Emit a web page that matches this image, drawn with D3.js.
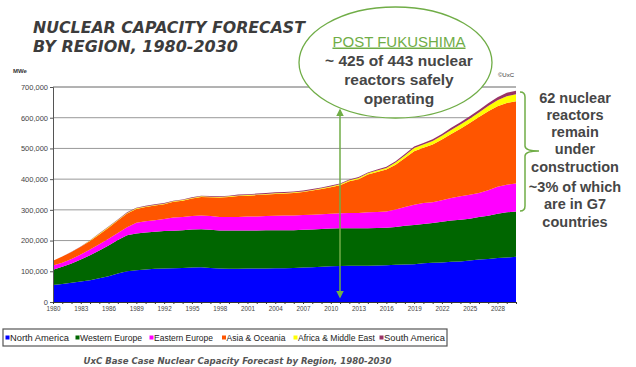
<!DOCTYPE html>
<html>
<head>
<meta charset="utf-8">
<script src="https://cdn.jsdelivr.net/npm/d3@7/dist/d3.min.js"></script>
<style>
  body { margin: 0; background: #fff; }
  svg { display: block; }
</style>
</head>
<body>
<div id="chart"></div>
<script>
// capacity by region, thousands of MWe, 1980-2030
var years = d3.range(1980, 2031);
var northAmerica = [55,59,63,67,71,77,84,93,100,103, 106,108,109,110,111,112,113,111,109,108,
  108,109,109,109,110,110,111,112,113,115, 116,117,118,118,118,119,120,121,122,123,
  126,128,129,131,132,135,138,140,143,145,147];
var westernEurope = [50,56,62,71,81,91,100,109,117,120, 120,121,122,122,123,124,124,124,124,125,
  125,124,124,125,124,124,123,123,123,123, 123,123,122,122,122,122,122,123,126,128,
  128,129,132,134,136,136,139,141,144,147,148];
var easternEurope = [14,13,15,17,19,20,22,23,26,35, 37,37,39,43,43,44,45,45,44,44,
  44,45,45,46,47,48,48,48,48,48, 48,49,50,50,52,52,53,57,61,66,
  68,68,70,74,76,78,78,83,88,90,91];
var asiaOceania = [15,20,23,25,28,32,36,40,45,45, 46,48,48,51,53,57,60,61,63,65,
  68,68,70,70,71,71,73,75,79,82, 87,91,103,110,123,130,136,146,160,174,
  180,188,198,208,220,234,247,257,262,266,268];
var africaMiddleEast = [0,0,0,0,1,2,2,2,2,2, 2,2,2,2,2,2,2,2,2,2,
  2,2,2,2,2,2,2,2,2,2, 2,3,3,4,4,5,5,7,8,10,
  11,11,12,13,14,14,15,17,20,22,22];
var southAmerica = [0,0,1,1,1,2,2,2,2,2, 2,2,2,2,2,2,2,2,2,2,
  3,3,3,3,3,3,3,3,3,3, 3,3,3,3,3,3,4,4,5,5,
  5,6,6,7,7,8,8,9,10,11,12];

var regions = ["North America", "Western Europe", "Eastern Europe", "Asia & Oceania", "Africa & Middle East", "South America"];
var regionColors = ["#0000ff", "#006600", "#ff00ff", "#ff5500", "#ffff00", "#993366"];
var yTicks = [0, 100, 200, 300, 400, 500, 600, 700];
var yearTicks = [1980,1983,1986,1989,1992,1995,1998,2001,2004,2007,2010,2013,2016,2019,2022,2025,2028];

var series = [northAmerica, westernEurope, easternEurope, asiaOceania, africaMiddleEast, southAmerica];
var data = years.map(function(yr, i) {
  var row = {year: yr};
  regions.forEach(function(r, k) { row[r] = series[k][i]; });
  return row;
});

var margin = {top: 87, right: 120, bottom: 65, left: 53},
    width = 463,
    height = 215;

var svg = d3.select("#chart").append("svg")
  .attr("width", 636)
  .attr("height", 367);

var defs = svg.append("defs");
defs.append("marker")
  .attr("id", "arrow")
  .attr("viewBox", "0 0 10 10")
  .attr("refX", 8).attr("refY", 5)
  .attr("markerWidth", 5).attr("markerHeight", 5)
  .attr("orient", "auto-start-reverse")
  .append("path")
  .attr("d", "M0,0 L10,5 L0,10 z")
  .attr("fill", "#70ad47");

// title
var title = svg.append("g")
  .style("font-family", "'DejaVu Sans', Verdana, sans-serif")
  .style("font-weight", "bold")
  .style("font-style", "italic")
  .style("font-size", "15px")
  .attr("fill", "#3c3c3c");
title.append("text").attr("x", 33).attr("y", 33)
  .attr("textLength", 272).attr("lengthAdjust", "spacingAndGlyphs")
  .text("NUCLEAR CAPACITY FORECAST");
title.append("text").attr("x", 33).attr("y", 52)
  .attr("textLength", 205).attr("lengthAdjust", "spacingAndGlyphs")
  .text("BY REGION, 1980-2030");

svg.append("text")
  .attr("x", 13).attr("y", 73)
  .style("font-family", "'Liberation Sans', Arial, sans-serif")
  .style("font-size", "6px")
  .style("font-weight", "bold")
  .attr("fill", "#333")
  .text("MWe");

var g = svg.append("g")
  .attr("transform", "translate(" + margin.left + "," + margin.top + ")");

var x = d3.scalePoint()
  .domain(years)
  .range([0, width]);

var y = d3.scaleLinear()
  .domain([0, 700])
  .range([height, 0]);

// gridlines
g.selectAll(".grid")
  .data(yTicks.filter(function(d) { return d > 0; }))
  .enter().append("line")
  .attr("x1", 0).attr("x2", width)
  .attr("y1", function(d) { return y(d); })
  .attr("y2", function(d) { return y(d); })
  .attr("stroke", function(d) { return d == 700 ? "#666" : "#999"; })
  .attr("stroke-width", 1);

var stack = d3.stack().keys(regions);
var layers = stack(data);

var area = d3.area()
  .x(function(d) { return x(d.data.year); })
  .y0(function(d) { return y(d[0]); })
  .y1(function(d) { return y(d[1]); });

g.selectAll(".layer")
  .data(layers)
  .enter().append("path")
  .attr("d", area)
  .attr("fill", function(d, i) { return regionColors[i]; });

// axes
var yAxis = g.append("g")
  .call(d3.axisLeft(y).tickValues(yTicks).tickSize(3)
    .tickFormat(function(d) { return d3.format(",")(d * 1000); }));
yAxis.select(".domain").attr("stroke", "#555");
yAxis.selectAll(".tick line").attr("stroke", "#555");
yAxis.selectAll("text")
  .style("font-family", "'Liberation Sans', Arial, sans-serif")
  .style("font-size", "7.5px")
  .attr("fill", "#444")
  .attr("x", -5);

var xAxis = g.append("g")
  .attr("transform", "translate(0," + height + ")")
  .call(d3.axisBottom(x).tickSize(2).tickSizeOuter(0)
    .tickFormat(function(d) { return yearTicks.indexOf(d) >= 0 ? d : ""; }));
xAxis.select(".domain").attr("stroke", "#333");
xAxis.selectAll(".tick line").attr("stroke", "#333");
xAxis.selectAll("text")
  .style("font-family", "'Liberation Sans', Arial, sans-serif")
  .style("font-size", "6.3px")
  .attr("fill", "#444")
  .attr("y", 5);

// post fukushima arrow
svg.append("line")
  .attr("x1", 340).attr("x2", 340)
  .attr("y1", 110).attr("y2", 297)
  .attr("stroke", "#70ad47")
  .attr("stroke-width", 1.5)
  .attr("marker-start", "url(#arrow)")
  .attr("marker-end", "url(#arrow)");

// callout bubble
svg.append("ellipse")
  .attr("cx", 395.5).attr("cy", 62.5)
  .attr("rx", 96.5).attr("ry", 55.5)
  .attr("fill", "#fff")
  .attr("stroke", "#70ad47")
  .attr("stroke-width", 1.3);

svg.append("text")
  .attr("x", 399).attr("y", 46.5)
  .attr("text-anchor", "middle")
  .style("font-family", "'Liberation Sans', Arial, sans-serif")
  .style("font-size", "15px")
  .style("text-decoration", "underline")
  .attr("fill", "#70ad47")
  .text("POST FUKUSHIMA");

var bubbleLines = ["~ 425 of 443 nuclear", "reactors safely", "operating"];
svg.selectAll(".bubble")
  .data(bubbleLines)
  .enter().append("text")
  .attr("x", 399)
  .attr("y", function(d, i) { return 66 + i * 19; })
  .attr("text-anchor", "middle")
  .style("font-family", "'Liberation Sans', Arial, sans-serif")
  .style("font-size", "15.5px")
  .style("font-weight", "bold")
  .attr("fill", "#464646")
  .text(function(d) { return d; });

svg.append("text")
  .attr("x", 506).attr("y", 77)
  .attr("text-anchor", "middle")
  .style("font-family", "'Liberation Sans', Arial, sans-serif")
  .style("font-size", "6px")
  .attr("fill", "#333")
  .text("\u00a9UxC");

// brace for under construction
svg.append("path")
  .attr("d", "M520,92 Q525,92 525,97 L525,146 Q525,151 539,151 Q525,151 525,156 L525,206 Q525,211 520,211")
  .attr("fill", "none")
  .attr("stroke", "#70ad47")
  .attr("stroke-width", 1.5);

var sideLines = ["62 nuclear", "reactors", "remain", "under", "construction", "~3% of which", "are in G7", "countries"];
var sideY = [103, 120, 137, 154, 171.5, 191.5, 209, 226.5];
svg.selectAll(".side")
  .data(sideLines)
  .enter().append("text")
  .attr("x", 575)
  .attr("y", function(d, i) { return sideY[i]; })
  .attr("text-anchor", "middle")
  .style("font-family", "'Liberation Sans', Arial, sans-serif")
  .style("font-size", "14.5px")
  .style("font-weight", "bold")
  .attr("fill", "#464646")
  .text(function(d) { return d; });

// legend
var legend = svg.append("g");
legend.append("rect")
  .attr("x", 3).attr("y", 329)
  .attr("width", 444).attr("height", 17)
  .attr("fill", "#fff")
  .attr("stroke", "#555")
  .attr("stroke-width", 1.2);

var legendX = [5.5, 75.5, 149.5, 222, 293.5, 379.5];
var legendW = [59, 62, 59, 59, 77, 61];
var item = legend.selectAll(".item")
  .data(regions)
  .enter().append("g")
  .attr("transform", function(d, i) { return "translate(" + legendX[i] + ",0)"; });
item.append("rect")
  .attr("x", 0).attr("y", 335.5)
  .attr("width", 4).attr("height", 4)
  .attr("fill", function(d, i) { return regionColors[i]; });
item.append("text")
  .attr("x", 4.5).attr("y", 341)
  .style("font-family", "'Liberation Sans', Arial, sans-serif")
  .style("font-size", "8.5px")
  .attr("fill", "#222")
  .attr("textLength", function(d, i) { return legendW[i]; })
  .attr("lengthAdjust", "spacingAndGlyphs")
  .text(function(d) { return d; });

// caption
svg.append("text")
  .attr("x", 237.5).attr("y", 364)
  .attr("text-anchor", "middle")
  .style("font-family", "'DejaVu Sans', Verdana, sans-serif")
  .style("font-size", "9px")
  .style("font-weight", "bold")
  .style("font-style", "italic")
  .attr("fill", "#555")
  .attr("textLength", 308).attr("lengthAdjust", "spacingAndGlyphs")
  .text("UxC Base Case Nuclear Capacity Forecast by Region, 1980-2030");
</script>
</body>
</html>
